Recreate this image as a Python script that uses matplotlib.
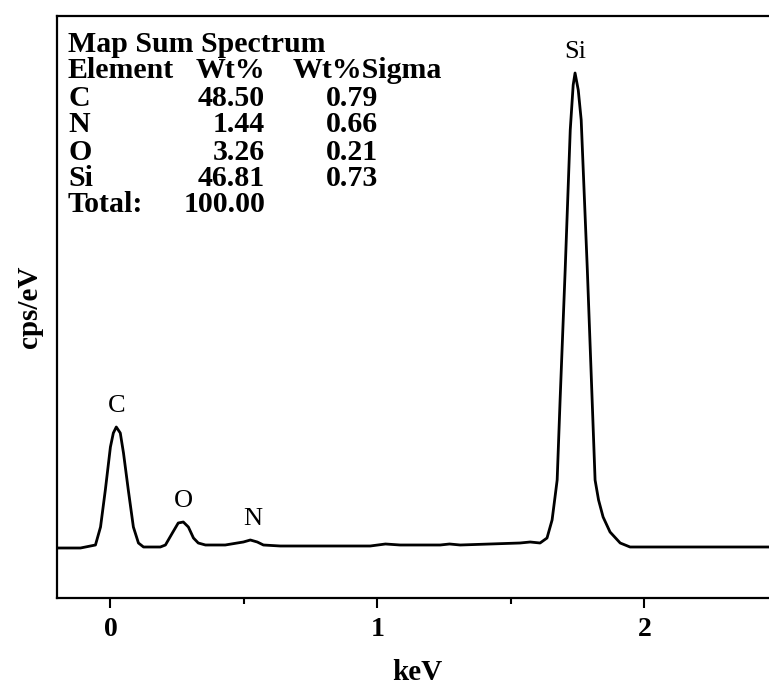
import matplotlib
matplotlib.use("Agg")
import matplotlib.pyplot as plt
from matplotlib.ticker import MultipleLocator

plt.rcParams['font.family'] = ['Liberation Serif', 'DejaVu Serif']

# Spectrum (keV, cps/eV arbitrary units)
energy = [-0.198, -0.112, -0.056, -0.037, -0.019, 0.0, 0.011, 0.022, 0.037, 0.049,
          0.067, 0.086, 0.105, 0.124, 0.187, 0.206, 0.232, 0.254, 0.273, 0.292,
          0.311, 0.329, 0.356, 0.43, 0.475, 0.498, 0.524, 0.55, 0.573, 0.636,
          0.973, 1.03, 1.085, 1.235, 1.27, 1.31, 1.534, 1.572, 1.609, 1.635,
          1.654, 1.665, 1.673, 1.684, 1.703, 1.722, 1.733, 1.74, 1.752, 1.763,
          1.786, 1.804, 1.815, 1.828, 1.845, 1.871, 1.909, 1.946, 2.5]
counts = [-0.1, -0.1, 0.2, 2.0, 5.7, 10.0, 11.4, 12.0, 11.4, 9.4,
          5.7, 2.0, 0.4, 0.0, 0.0, 0.2, 1.4, 2.4, 2.5, 2.0,
          0.9, 0.4, 0.2, 0.2, 0.4, 0.5, 0.7, 0.5, 0.2, 0.1,
          0.1, 0.3, 0.2, 0.2, 0.3, 0.2, 0.4, 0.5, 0.4, 0.9,
          2.7, 5.0, 6.7, 14.7, 27.7, 41.7, 46.2, 47.4, 45.7, 42.7,
          27.7, 14.7, 6.7, 4.7, 3.0, 1.5, 0.4, 0.0, 0.0]

peak_labels = ["C", "O", "N", "Si"]
peak_pos = [0.022, 0.273, 0.535, 1.74]
peak_height = [12.0, 2.5, 0.7, 47.4]

elements = ["C", "N", "O", "Si"]
wt = ["48.50", "1.44", "3.26", "46.81"]
sigma = ["0.79", "0.66", "0.21", "0.73"]
total = "100.00"

fig = plt.figure(figsize=(7.69, 6.89), dpi=100)
ax = fig.add_axes([57/769, 1-598/689, (778-57)/769, (598-16)/689])

ax.plot(energy, counts, color='black', lw=2.0)
ax.set_xlim(-0.2, 2.5)
ax.set_ylim(-5.1, 53.1)

for lab, x, h in zip(peak_labels, peak_pos, peak_height):
    ax.annotate(lab, (x, h), xytext=(0, 7), textcoords='offset points',
                ha='center', va='bottom', fontsize=19)

ax.xaxis.set_major_locator(MultipleLocator(1))
ax.xaxis.set_minor_locator(MultipleLocator(0.5))
ax.tick_params(axis='x', which='major', length=7, width=1.5, direction='out', pad=7)
ax.tick_params(axis='x', which='minor', length=4, width=1.5, direction='out')
ax.set_yticks([])
for lbl in ax.get_xticklabels():
    lbl.set_fontweight('bold')
    lbl.set_fontsize(20)
for s in ax.spines.values():
    s.set_linewidth(1.6)

ax.set_xlabel("keV", fontsize=21, fontweight='bold', labelpad=12)
ax.set_ylabel("cps/eV", fontsize=21, fontweight='bold', labelpad=10)

# Table text
fs = 21.5
def px(xp, yp):
    return fig.transFigure.inverted().transform((xp, 689 - yp))

tkw = dict(fontsize=fs, fontweight='bold', va='center', transform=fig.transFigure)
fig.text(*px(68, 45), "Map Sum Spectrum", ha='left', **tkw)
fig.text(*px(68, 71), "Element", ha='left', **tkw)
fig.text(*px(265, 71), "Wt%", ha='right', **tkw)
fig.text(*px(293, 71), "Wt%Sigma", ha='left', **tkw)
rows_y = [98, 125, 152, 178]
for e, w, sg, yy in zip(elements, wt, sigma, rows_y):
    fig.text(*px(68, yy), e, ha='left', **tkw)
    fig.text(*px(265, yy), w, ha='right', **tkw)
    fig.text(*px(378, yy), sg, ha='right', **tkw)
fig.text(*px(68, 205), "Total:", ha='left', **tkw)
fig.text(*px(265, 205), total, ha='right', **tkw)

fig.savefig("out.png", dpi=100)
